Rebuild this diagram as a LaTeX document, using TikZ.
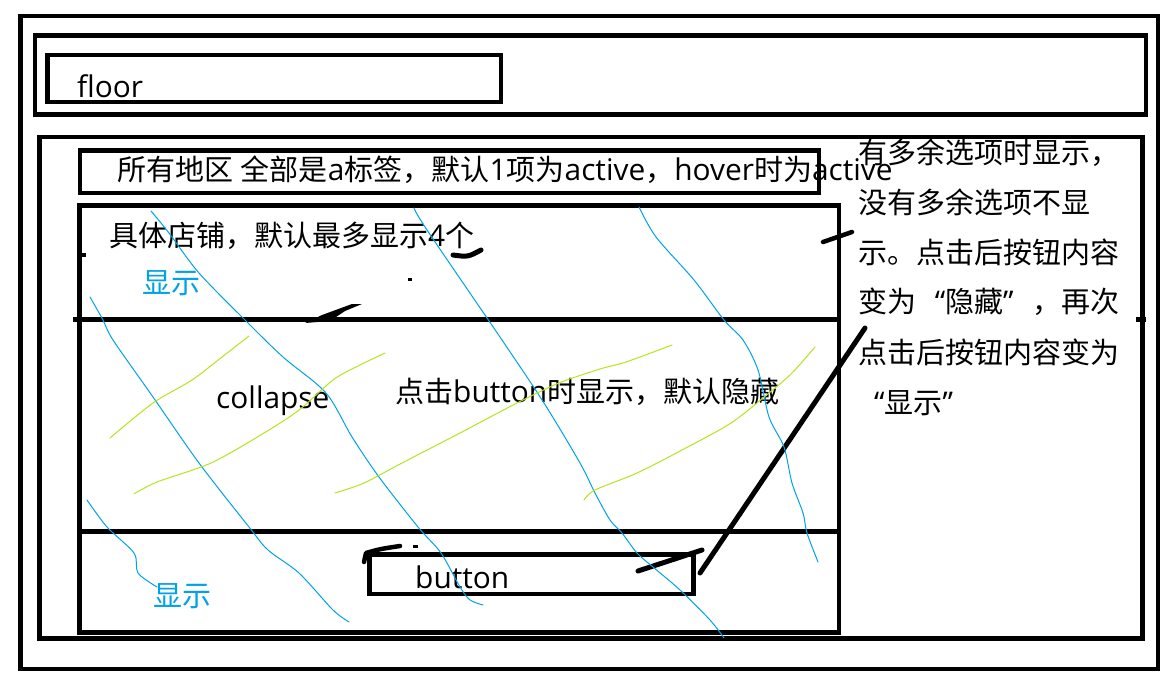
\documentclass[tikz,border=0pt]{standalone}
\usepackage{fontspec}
\setmainfont{Open Sans}[Scale=1.03]
\newfontfamily\cjkfont{Noto Sans CJK SC}
\newcommand\zh[1]{{\cjkfont #1}}
\usetikzlibrary{fit}
\definecolor{paintblue}{RGB}{0,162,232}
\definecolor{paintlime}{RGB}{181,230,29}
\begin{document}
\begin{tikzpicture}[x=1pt,y=-1pt,
  frame/.style={draw, line width=4.8pt, inner sep=0pt, fit={#1}},
  lbl/.style={inner sep=0pt, anchor=base west, font=\fontsize{29}{34}\selectfont},
  pen/.style={line width=5pt, line cap=round, line join=round},
  bluepen/.style={paintblue, line width=1pt, line cap=round, line join=round},
  limepen/.style={paintlime, line width=1pt, line cap=round, line join=round}]
\useasboundingbox (0,0) rectangle (1174,683);
\fill[white] (0,0) rectangle (1174,683);

% page frames
\node[frame={(20.5,16) (1158,669)}] (outer) {};
\node[frame={(35,35.5) (1146,114.5)}] (floorbar) {};
\node[frame={(47.5,55) (501,102)}] (floorbox) {};
\node[frame={(39.5,137) (1142.5,638.5)}] (main) {};
\node[frame={(80,150.5) (819,193)}] (areas) {};
\node[frame={(79.5,205.5) (839,632.5)}] (shops) {};
\node[frame={(369.5,554.5) (693.5,594)}] (btn) {};

% dividers inside the shop block
\coordinate (d1w) at (shops.west |- 0,319.5);
\coordinate (d1e) at (shops.east |- 0,319.5);
\coordinate (d2w) at (shops.west |- 0,531.5);
\coordinate (d2e) at (shops.east |- 0,531.5);
\draw[line width=5pt] (d1w) ++(-4,0) -- (d1e);
\draw[line width=4.8pt] (d2w) -- (d2e);

% small joints of the frame strokes
\fill (1136,317) rectangle (1146,322);
\fill (82,253) rectangle (86,257);

% labels
\node[lbl] (tfloor) at (77,97) {floor};
\node[lbl] (tareas) at (117,180.5) {\zh{所有地区} \zh{全部是}a\zh{标签，默认}1\zh{项为}active\zh{，}hover\zh{时为}active};
\node[lbl] (tshops) at (109,246) {\zh{具体店铺，默认最多显示}4\zh{个}};
\node[lbl, paintblue] (tshow1) at (142,293) {\zh{显示}};
\node[lbl] (tcollapse) at (216,408) {collapse};
\node[lbl] (tclick) at (395,402) {\zh{点击}button\zh{时显示，默认隐藏}};
\node[lbl] (tbutton) at (415,588) {button};
\node[lbl, paintblue] (tshow2) at (153,606) {\zh{显示}};

% note on the right
\node[lbl] (n1) at (858,163) {\zh{有多余选项时显示，}};
\node[lbl] (n2) at (858,213) {\zh{没有多余选项不显}};
\node[lbl] (n3) at (858,263) {\zh{示。点击后按钮内容}};
\node[lbl] (n4) at (858,312) {\zh{变为}\makebox[29pt][r]{“}\zh{隐藏}\makebox[29pt][l]{”}\zh{，再次}};
\node[lbl] (n5) at (858,363) {\zh{点击后按钮内容变为}};
\node[lbl] (n6) at (874,413) {“\zh{显示}”};

% pen strokes
\draw[pen] (453,255) .. controls (468,257) .. (481,250);
\draw[pen, line width=4.5pt] (823,242) -- (852,232);
\fill (305,323) -- (330,321) -- (345,311) -- (362,304) -- (352,304) -- (322,315) -- cycle;
\fill (408,278) rectangle (412,280.5);
\draw[pen, line width=4.5pt] (364,562) -- (366,553) .. controls (380,549) .. (400,546);
\fill (413,545) rectangle (418,547.5);
\draw[pen] (638,571) -- (702,550);
\draw[pen] (700,573) -- (865,328);

% blue scribbles
\draw[bluepen] plot[smooth] coordinates {(90,297) (103,320) (113,340) (153,397) (199,463) (249,527) (268,550) (299,573) (333,610) (349,622)};
\draw[bluepen] plot[smooth] coordinates {(151,211) (169,233) (199,273) (245,320) (283,357) (326,393) (352,437) (379,477) (418,527) (441,553) (460,587) (470,600) (483,605)};
\draw[bluepen] plot[smooth] coordinates {(414,208) (427,230) (502,340) (544,403) (580,463) (595,493) (610,520) (622,533) (637,553) (653,567) (680,590) (710,620) (724,638)};
\draw[bluepen] plot[smooth] coordinates {(639,207) (656,237) (694,280) (724,320) (743,340) (758,370) (769,417) (784,447) (792,483) (803,513) (807,533) (818,562)};
\draw[bluepen] plot[smooth] coordinates {(87,500) (107,527) (134,553) (138,573) (157,587)};

% lime scribbles
\draw[limepen] plot[smooth] coordinates {(110,438) (153,403) (192,380) (222,357) (249,336)};
\draw[limepen] plot[smooth] coordinates {(134,494) (157,482) (211,463) (264,433) (299,410) (333,380) (356,367) (385,353)};
\draw[limepen] plot[smooth] coordinates {(335,493) (364,483) (402,463) (460,433) (517,403) (559,383) (600,369) (626,362) (672,345)};
\draw[limepen] plot[smooth] coordinates {(584,500) (595,490) (637,473) (682,450) (731,423) (769,393) (792,373) (815,347)};
\end{tikzpicture}
\end{document}
